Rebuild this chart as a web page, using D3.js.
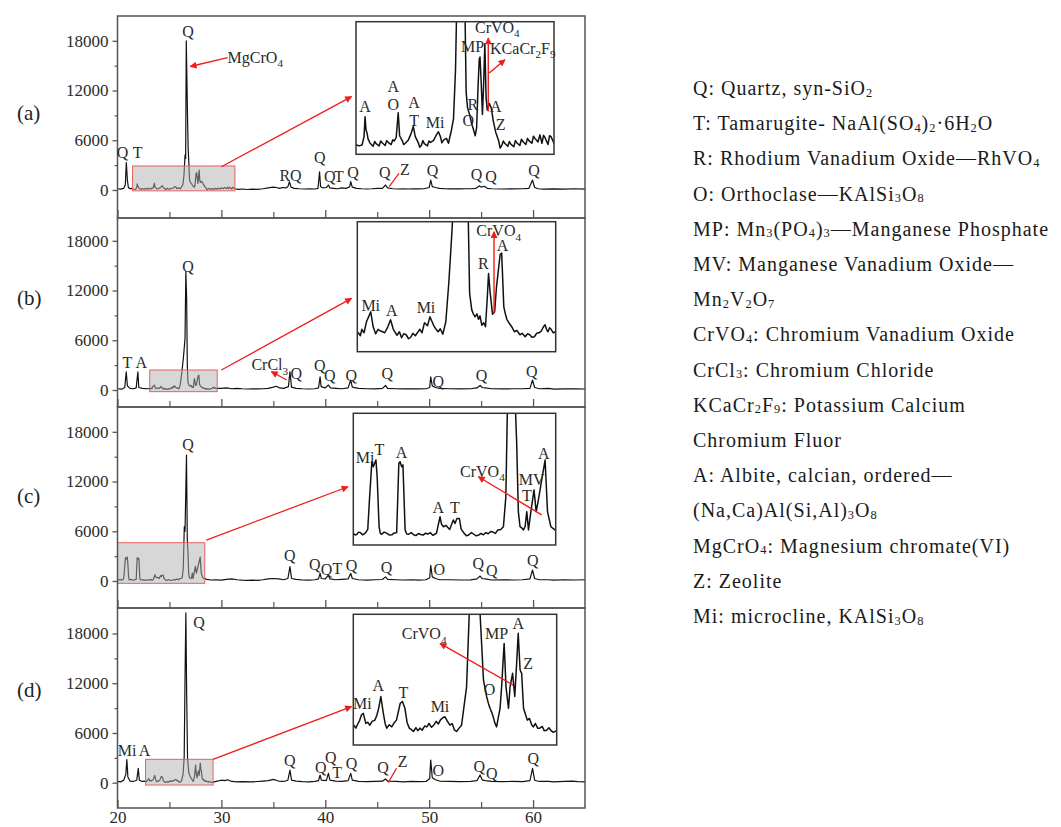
<!DOCTYPE html>
<html><head><meta charset="utf-8">
<script src="https://cdn.jsdelivr.net/npm/d3@7"></script>
<style>
body{margin:0;background:#fff}
svg text{font-family:"Liberation Serif","Times New Roman",serif}
</style>
</head><body>
<svg id="chart" width="1061" height="827"></svg>
<script>
// ---------------- DATA ----------------
const xTickValues = [20, 30, 40, 50, 60];
const xMinorTicks = [25, 35, 45, 55];
const yTickValues = [0, 6000, 12000, 18000];
const yMinorTicks = [3000, 9000, 15000];
const panelNames = ["(a)", "(b)", "(c)", "(d)"];

// XRD patterns [2theta, counts]
const traceA = [
[20.0,150],[20.3,100],[20.6,200],[20.75,600],[20.85,3300],[20.95,1200],[21.05,300],[21.2,150],[21.35,200],
[21.45,120],[21.6,90],[21.75,110],[21.85,300],[21.9,750],[21.95,450],[22.0,380],[22.05,250],[22.15,150],[22.3,80],[22.38,190],[22.45,140],[22.6,90],[22.68,200],[22.75,160],[22.9,100],[22.98,210],[23.05,170],[23.2,120],[23.28,230],[23.35,200],[23.45,280],[23.55,840],[23.62,320],[23.75,210],[23.82,120],[23.9,150],[24.05,220],[24.2,380],[24.3,530],[24.4,300],[24.55,160],[24.62,60],[24.7,100],[24.78,210],[24.85,140],[25.0,90],[25.08,200],[25.15,170],[25.3,210],[25.45,340],[25.55,410],[25.65,300],[25.72,160],[25.8,220],[25.95,260],[26.05,150],
[26.2,450],[26.3,700],[26.4,1800],[26.5,4200],[26.56,3800],[26.62,18000],[26.68,13500],[26.74,8900],[26.8,5000],[26.87,3200],[26.93,1300],[27.0,950],[27.1,800],[27.2,600],[27.3,450],[27.38,320],[27.45,500],[27.52,1400],[27.58,2050],[27.62,2100],[27.68,1500],[27.74,800],[27.8,1500],[27.86,2400],[27.92,1200],[27.98,900],[28.08,1050],[28.18,950],[28.28,650],[28.4,400],[28.55,200],[28.62,40],[28.7,100],[28.78,200],[28.85,150],[29.0,80],[29.08,190],[29.15,130],[29.3,70],[29.38,210],[29.45,160],[29.6,100],[29.68,240],[29.75,190],[29.9,120],[29.98,260],[30.05,210],[30.2,150],[30.28,310],[30.35,260],[30.5,180],[30.6,340],[30.7,150],[30.78,330],[30.85,280],[31.0,120],[31.08,320],[31.15,300],[31.3,150],
[31.6,80],[32.0,120],[32.5,60],[33.0,100],[33.5,80],[34.0,150],[34.5,250],[35.0,350],[35.3,300],[35.6,200],[35.9,300],[36.2,250],[36.4,400],[36.55,1000],[36.7,350],[37.0,200],[37.5,150],[38.0,120],[38.5,150],[39.0,120],[39.3,200],[39.45,2200],[39.55,400],[39.8,250],[40.1,300],[40.3,600],[40.45,250],[40.8,200],[41.2,150],[41.6,250],[42.0,200],[42.35,400],[42.45,1000],[42.6,350],[43.0,200],[43.5,150],[44.0,120],[44.5,150],[45.0,200],[45.5,200],[45.8,600],[46.0,250],[46.5,150],[47.0,120],[47.5,150],[48.0,120],[48.5,150],[49.0,130],[49.5,150],[50.0,300],[50.15,1200],[50.3,400],[50.6,300],[51.0,200],[51.5,150],[52.0,130],[52.5,150],[53.0,130],[53.5,150],[54.0,150],[54.5,200],[54.85,500],[55.0,350],[55.3,450],[55.6,200],[56.0,150],[57.0,120],[58.0,140],[59.0,150],[59.6,200],[59.95,1200],[60.15,300],[60.5,150],[61.0,100],[62.0,130],[63.0,100],[64.0,150],[65.0,100]
];
const traceB = [
[20.0,150],[20.4,100],[20.7,300],[20.84,2200],[20.95,500],[21.2,200],[21.5,150],[21.8,250],[21.96,2200],[22.05,300],[22.4,200],[22.8,150],
[23.13,180],[23.2,120],[23.25,250],[23.32,180],[23.4,400],[23.54,600],[23.62,300],[23.7,160],[23.78,250],[23.85,220],[24.0,180],[24.1,300],[24.19,440],[24.28,250],[24.35,180],[24.4,130],[24.48,200],[24.55,80],[24.62,160],[24.7,140],[24.78,60],[24.85,90],[24.92,170],[25.0,120],[25.15,250],[25.22,180],[25.3,380],[25.4,320],[25.48,500],[25.55,400],[25.6,330],[25.68,250],[25.75,200],[25.82,260],[25.9,150],[26.0,400],[26.1,1200],[26.2,2200],[26.35,4000],[26.5,6200],[26.58,14300],[26.66,10800],[26.72,3000],[26.78,970],[26.85,640],[26.9,560],[26.96,500],[27.02,560],[27.07,450],[27.12,520],[27.18,330],[27.24,380],[27.3,300],[27.36,900],[27.4,1370],[27.45,1000],[27.53,550],[27.6,600],[27.66,1100],[27.78,1750],[27.83,1780],[27.9,700],[27.95,560],[28.0,450],[28.05,400],[28.1,350],[28.18,280],[28.25,200],[28.32,230],[28.43,140],[28.5,170],[28.6,100],[28.68,160],[28.75,140],[28.82,90],[28.9,100],[28.98,170],[29.05,180],[29.12,210],[29.2,300],[29.25,340],[29.3,250],[29.35,200],[29.4,280],[29.45,250],[29.52,180],[29.6,200],
[30.0,200],[30.5,250],[31.0,150],[31.5,200],[32.0,150],[32.5,120],[33.0,150],[33.5,130],[34.0,150],[34.5,200],[35.0,350],[35.3,450],[35.6,250],[36.0,200],[36.45,400],[36.6,2200],[36.75,350],[37.2,200],[37.8,150],[38.4,120],[39.0,150],[39.35,250],[39.5,1600],[39.6,400],[40.0,250],[40.3,600],[40.5,250],[41.0,200],[41.6,150],[42.2,250],[42.45,1200],[42.6,350],[43.2,200],[44.0,150],[44.8,130],[45.5,200],[45.8,550],[46.0,200],[46.8,150],[47.5,130],[48.3,150],[49.0,130],[49.7,150],[50.05,300],[50.15,1600],[50.3,500],[50.6,300],[51.0,200],[52.0,150],[53.0,130],[54.0,150],[54.6,250],[54.9,550],[55.1,300],[55.4,250],[56.0,150],[57.0,130],[58.0,150],[59.0,150],[59.7,200],[59.95,1200],[60.15,300],[60.6,150],[61.5,200],[62.0,100],[63.0,130],[64.0,150],[65.0,120]
];
const traceC = [
[20.0,155],[20.08,90],[20.15,120],[20.22,200],[20.3,180],[20.38,100],[20.45,130],[20.52,190],[20.6,300],[20.67,1390],[20.77,2820],[20.83,2630],[20.94,2880],[20.99,2260],[21.07,400],[21.12,150],[21.18,120],[21.28,200],[21.4,150],[21.5,90],[21.6,100],[21.7,170],[21.8,180],[21.89,2760],[21.94,2820],[22.01,2630],[22.06,2700],[22.15,280],[22.22,130],[22.3,120],[22.4,180],[22.5,100],[22.6,70],[22.7,150],[22.8,110],[22.9,90],[23.0,160],[23.1,130],[23.2,180],[23.3,80],[23.38,120],[23.45,150],[23.6,770],[23.66,500],[23.74,400],[23.85,450],[24.0,300],[24.15,650],[24.22,520],[24.3,710],[24.4,710],[24.48,300],[24.6,155],[24.7,60],[24.8,100],[24.9,180],[25.0,120],[25.1,60],[25.2,90],[25.3,150],[25.4,100],[25.5,180],[25.6,140],[25.7,220],[25.8,200],[25.9,150],[26.0,280],[26.12,300],[26.23,400],[26.33,1500],[26.43,6550],[26.5,6000],[26.64,15200],[26.72,5000],[26.78,3530],[26.85,960],[26.92,400],[27.0,350],[27.06,280],[27.13,400],[27.2,960],[27.27,280],[27.37,960],[27.5,1770],[27.59,960],[27.68,1390],[27.82,2140],[27.96,2880],[28.06,960],[28.2,400],[28.3,330],[28.37,280],
[28.6,200],[29.0,120],[29.5,150],[30.0,100],[30.5,200],[31.0,250],[31.5,150],[32.0,100],[32.5,80],[33.0,100],[33.5,80],[34.0,150],[34.5,250],[35.0,300],[35.5,250],[36.0,150],[36.4,300],[36.6,1730],[36.75,300],[37.2,200],[37.8,120],[38.4,100],[39.0,150],[39.35,250],[39.5,930],[39.62,300],[40.0,250],[40.3,700],[40.45,250],[41.0,150],[41.6,200],[42.2,250],[42.45,930],[42.6,300],[43.2,150],[44.0,100],[44.8,150],[45.5,180],[45.8,500],[46.0,200],[46.8,150],[47.5,120],[48.3,150],[49.0,100],[49.7,150],[50.05,400],[50.15,1900],[50.3,500],[50.6,300],[51.0,150],[52.0,150],[53.0,120],[54.0,130],[54.6,250],[54.9,600],[55.1,300],[55.4,250],[56.0,120],[57.0,150],[58.0,120],[59.0,150],[59.7,250],[59.95,1330],[60.15,300],[60.6,150],[61.5,150],[62.0,100],[63.0,150],[64.0,120],[65.0,150]
];
const traceD = [
[20.0,150],[20.3,100],[20.6,300],[20.8,1000],[20.9,2800],[21.0,700],[21.2,200],[21.5,150],[21.85,300],[22.0,1730],[22.1,300],[22.4,150],
[22.72,190],[22.78,120],[22.85,230],[22.9,300],[22.96,430],[23.02,470],[23.1,230],[23.16,260],[23.23,190],[23.3,280],[23.39,310],[23.45,420],[23.51,590],[23.58,870],[23.66,470],[23.72,220],[23.77,120],[23.85,200],[23.93,150],[24.0,240],[24.08,310],[24.2,710],[24.27,750],[24.35,590],[24.42,250],[24.49,120],[24.55,90],[24.62,40],[24.7,130],[24.76,60],[24.83,120],[24.9,70],[24.98,170],[25.05,150],[25.12,230],[25.2,140],[25.27,190],[25.35,280],[25.42,220],[25.48,310],[25.55,360],[25.63,390],[25.7,290],[25.79,190],[25.86,230],[25.93,80],[26.0,40],[26.08,120],[26.16,190],[26.32,1100],[26.42,3130],[26.5,12580],[26.58,20500],[26.66,10360],[26.74,3000],[26.86,1260],[26.96,870],[27.02,700],[27.07,590],[27.12,500],[27.17,390],[27.22,250],[27.28,150],[27.34,400],[27.39,590],[27.44,1100],[27.52,2130],[27.58,1100],[27.66,590],[27.71,1100],[27.79,1420],[27.86,870],[27.92,1660],[27.97,2370],[28.03,1500],[28.08,1420],[28.14,590],[28.2,450],[28.26,310],[28.33,350],[28.4,200],[28.45,150],[28.52,230],[28.59,120],[28.66,120],[28.74,160],[28.8,60],[28.88,70],[28.95,130],[29.02,60],[29.09,20],[29.2,60],
[29.5,150],[30.0,300],[30.3,250],[30.6,350],[31.0,150],[31.5,100],[32.0,120],[33.0,100],[34.0,200],[34.5,250],[35.0,400],[35.5,200],[36.0,150],[36.4,300],[36.6,1530],[36.75,300],[37.2,200],[37.8,120],[38.4,100],[39.0,150],[39.35,250],[39.5,930],[39.62,300],[40.1,250],[40.3,1130],[40.45,300],[41.0,200],[41.6,150],[42.2,250],[42.45,1130],[42.6,300],[43.2,150],[44.0,120],[44.8,150],[45.5,180],[45.8,450],[46.0,200],[46.8,150],[47.5,100],[48.3,150],[49.0,120],[49.7,150],[50.05,500],[50.15,2730],[50.3,600],[50.6,350],[51.0,200],[52.0,150],[53.0,120],[54.0,150],[54.6,250],[54.9,930],[55.1,350],[55.4,250],[56.0,150],[57.0,130],[58.0,150],[59.0,130],[59.7,250],[59.95,1730],[60.15,300],[60.6,150],[61.5,150],[62.0,100],[63.0,150],[63.8,200],[64.3,120],[65.0,100]
];

// zoom boxes [2theta from, 2theta to, counts from, counts to]
const boxA = [21.45, 31.3, -100, 2900];
const boxB = [23.1, 29.6, -200, 2410];
const boxC = [20.0, 28.4, -280, 4620];
const boxD = [22.7, 29.2, -280, 2820];

// peak labels in main plots [text, 2theta, counts]
const labelsA = [["Q",20.48,3900],["T",21.93,3900],["Q",26.78,18480],["R",36.1,1090],["Q",37.16,1090],["Q",39.47,3260],["Q",40.43,970],["T",41.3,970],["Q",42.68,1450],["Q",45.73,1450],["Z",47.66,1810],["Q",50.33,1690],["Q",54.57,1210],["Q",55.95,970],["Q",60.1,1690]];
const labelsB = [["T",20.96,2650],["A",22.28,2650],["Q",26.78,14230],["Q",37.22,1330],["Q",39.47,2290],["Q",40.43,1090],["Q",42.5,1090],["Q",45.96,1330],["Q",50.87,360],["Q",55.05,1090],["Q",59.87,1570]];
const labelsC = [["Q",26.78,15800],["Q",36.58,2410],["Q",38.99,1330],["Q",40.11,720],["T",41.16,880],["Q",42.53,1210],["Q",45.9,1000],["O",50.97,720],["Q",54.73,1450],["Q",56.02,600],["Q",59.97,1810]];
const labelsD = [["Mi",20.92,3220],["A",22.6,3220],["Q",27.84,18650],["Q",36.58,2030],["Q",39.57,1170],["Q",40.53,2420],["T",41.14,540],["Q",42.53,1650],["Q",45.57,1170],["Z",47.44,1890],["O",50.87,810],["Q",54.82,1290],["Q",56.02,450],["Q",60.03,2270]];
// compound labels with arrows in main plots [text, 2theta, counts, arrow from 2theta, from counts, to 2theta, to counts, head]
const calloutsA = [["MgCrO_4",30.6,15340,30.6,15980,27.0,14900,1],["",0,0,46.15,400,47.1,2010,0]];
const calloutsB = [["CrCl_3",32.89,2410,36.29,1210,34.81,2210,1]];
const calloutsC = [];
const calloutsD = [["",0,0,46.05,0,46.86,1740,0]];

// labels inside the insets [text, 2theta, counts]
const insetLabelsA = [["A",21.9,860],["A",23.31,1310],["O",23.31,900],["A",24.34,950],["T",24.34,540],["Mi",25.38,500],["MP",27.25,2220],["R",27.26,900],["O",27.04,540],["A",28.40,860],["Z",28.65,450]];
const insetLabelsB = [["Mi",23.54,620],["A",24.23,520],["Mi",25.35,580],["R",27.23,1460],["A",27.86,1820]];
const insetLabelsC = [["Mi",20.49,2780],["T",21.08,3070],["A",22.0,2970],["A",23.53,910],["T",24.22,910],["MV",27.4,1950],["T",27.2,1360],["A",27.91,2920]];
const insetLabelsD = [["Mi",22.99,570],["A",23.5,1000],["T",24.3,840],["Mi",25.47,500],["O",27.05,900],["MP",27.28,2230],["A",27.97,2480],["Z",28.29,1520]];
// inset callouts [text, 2theta, counts, arrow from 2theta, from counts, to 2theta, to counts]
const insetCalloutsA = [["CrVO_4",27.37,2650,28.03,870,28.03,2530],["KCaCr_2F_9",28.12,2180,28.08,1740,28.86,2040]];
const insetCalloutsB = [["CrVO_4",27.0,2120,27.58,570,27.58,2210]];
const insetCalloutsC = [["CrVO_4",24.43,2250,27.82,840,25.19,2260]];
const insetCalloutsD = [["CrVO_4",24.25,2230,27.81,1140,25.47,2130]];
// arrows from zoom box to inset [from 2theta, from counts, to 2theta, to counts]
const zoomArrowA = [30.0, 2810, 42.53, 11260];
const zoomArrowB = [30.0, 2410, 42.53, 11050];
const zoomArrowC = [28.55, 4940, 42.19, 11370];
const zoomArrowD = [29.19, 2810, 42.53, 9180];

const legendLines = [
 "Q: Quartz, syn-SiO_2",
 "T: Tamarugite- NaAl(SO_4)_2·6H_2O",
 "R: Rhodium Vanadium Oxide—RhVO_4",
 "O: Orthoclase—KAlSi_3O_8",
 "MP: Mn_3(PO_4)_3—Manganese Phosphate",
 "MV: Manganese Vanadium Oxide—",
 "Mn_2V_2O_7",
 "CrVO_4: Chromium Vanadium Oxide",
 "CrCl_3: Chromium Chloride",
 "KCaCr_2F_9: Potassium Calcium",
 "Chromium Fluor",
 "A: Albite, calcian, ordered—",
 "(Na,Ca)Al(Si,Al)_3O_8",
 "MgCrO_4: Magnesium chromate(VI)",
 "Z: Zeolite",
 "Mi: microcline, KAlSi_3O_8"
];

// ---------------- LAYOUT ----------------
const svg = d3.select("#chart");
const LEFT = 117.5, RIGHT = 585;
const RED = "#f01c1c";
const panels = [
 {name:panelNames[0], trace:traceA, box:boxA, labels:labelsA, callouts:calloutsA, iLabels:insetLabelsA, iCallouts:insetCalloutsA, arrow:zoomArrowA,
  top:16, bottom:218, zero:190, nameY:120, inset:[356,554,21.7,154.3]},
 {name:panelNames[1], trace:traceB, box:boxB, labels:labelsB, callouts:calloutsB, iLabels:insetLabelsB, iCallouts:insetCalloutsB, arrow:zoomArrowB,
  top:218, bottom:407, zero:390, nameY:305, inset:[357.3,555.7,221.7,351.7]},
 {name:panelNames[2], trace:traceC, box:boxC, labels:labelsC, callouts:calloutsC, iLabels:insetLabelsC, iCallouts:insetCalloutsC, arrow:zoomArrowC,
  top:407, bottom:608, zero:581, nameY:503, inset:[353.3,555.7,413.3,545]},
 {name:panelNames[3], trace:traceD, box:boxD, labels:labelsD, callouts:calloutsD, iLabels:insetLabelsD, iCallouts:insetCalloutsD, arrow:zoomArrowD,
  top:608, bottom:808, zero:782.7, nameY:697, inset:[353.3,556.7,614.3,745]}
];

const defs = svg.append("defs");
defs.append("marker").attr("id","ah").attr("viewBox","0 0 10 10").attr("refX",9).attr("refY",5)
  .attr("markerWidth",9).attr("markerHeight",7).attr("markerUnits","userSpaceOnUse").attr("orient","auto")
  .append("path").attr("d","M0,0L10,5L0,10z").attr("fill",RED);

function richText(g, str, x, y, size, anchor, fill, subScale, subDy) {
  const t = g.append("text").attr("x",x).attr("y",y).attr("font-size",size)
    .attr("text-anchor",anchor||"middle").attr("fill",fill||"#2a2a2a");
  const parts = str.split(/(_[0-9]+)/);
  let sub = false;
  parts.forEach(p => {
    if (!p) return;
    if (p[0] === "_") {
      t.append("tspan").attr("font-size",size*(subScale||0.7)).attr("dy",sub?0:size*(subDy==null?0.28:subDy)).text(p.slice(1));
      sub = true;
    } else {
      const ts = t.append("tspan").text(p);
      if (sub) { ts.attr("dy",-size*(subDy==null?0.28:subDy)); sub = false; }
    }
  });
  return t;
}

const x = d3.scaleLinear().domain([20,65]).range([LEFT,RIGHT]);

panels.forEach((P,i) => {
  const g = svg.append("g");
  const y = d3.scaleLinear().domain([0,18000]).range([P.zero, P.zero-149.2]);
  const cid = "clipMain"+i;
  defs.append("clipPath").attr("id",cid).append("rect")
    .attr("x",LEFT).attr("y",P.top).attr("width",RIGHT-LEFT).attr("height",P.bottom-P.top);

  // main trace
  const line = d3.line().x(d=>x(d[0])).y(d=>y(d[1]));
  g.append("path").datum(P.trace).attr("d",line).attr("fill","none")
    .attr("stroke","#111").attr("stroke-width",1.2).attr("stroke-linejoin","round")
    .attr("clip-path","url(#"+cid+")");

  // zoom box
  g.append("rect").attr("x",x(P.box[0])).attr("y",y(P.box[3]))
    .attr("width",x(P.box[1])-x(P.box[0])).attr("height",y(P.box[2])-y(P.box[3]))
    .attr("fill","rgba(175,175,175,0.5)").attr("stroke","#e8605e").attr("stroke-width",1);

  // panel frame
  g.append("rect").attr("x",LEFT).attr("y",P.top).attr("width",RIGHT-LEFT).attr("height",P.bottom-P.top)
    .attr("fill","none").attr("stroke","#555").attr("stroke-width",1.5);

  // y axis
  const ya = d3.axisLeft(y).tickValues(yTickValues).tickSize(5).tickPadding(4).tickFormat(d3.format("d"));
  const yg = g.append("g").attr("transform",`translate(${LEFT},0)`).call(ya);
  yg.select(".domain").remove();
  yg.selectAll("text").attr("font-size",17).attr("fill","#2a2a2a").attr("font-family","Liberation Serif");
  yg.selectAll("line").attr("stroke","#555").attr("stroke-width",1.3);
  const ym = g.append("g").attr("transform",`translate(${LEFT},0)`)
    .call(d3.axisLeft(y).tickValues(yMinorTicks).tickSize(3).tickFormat(""));
  ym.select(".domain").remove();
  ym.selectAll("line").attr("stroke","#555").attr("stroke-width",1.2);

  // x axis (inward ticks)
  const xa = d3.axisBottom(x).tickValues(xTickValues).tickSizeInner(-8).tickSizeOuter(0).tickPadding(3)
    .tickFormat(i===3 ? d3.format("d") : "");
  const xg = g.append("g").attr("transform",`translate(0,${P.bottom})`).call(xa);
  xg.select(".domain").remove();
  xg.selectAll("line").attr("stroke","#555").attr("stroke-width",1.3);
  xg.selectAll("text").attr("font-size",17).attr("fill","#2a2a2a").attr("font-family","Liberation Serif");
  const xm = g.append("g").attr("transform",`translate(0,${P.bottom})`)
    .call(d3.axisBottom(x).tickValues(xMinorTicks).tickSizeInner(-6).tickSizeOuter(0).tickFormat(""));
  xm.select(".domain").remove();
  xm.selectAll("line").attr("stroke","#555").attr("stroke-width",1.2);

  // panel name
  g.append("text").attr("x",17).attr("y",P.nameY).attr("font-size",21).attr("fill","#222").text(P.name);

  // main labels
  P.labels.forEach(L => richText(g, L[0], x(L[1]), y(L[2]), 16, "middle"));
  P.callouts.forEach(C => {
    if (C[0]) richText(g, C[0], x(C[1]), y(C[2]), 16, "start");
    const ln = g.append("line").attr("x1",x(C[3])).attr("y1",y(C[4])).attr("x2",x(C[5])).attr("y2",y(C[6]))
      .attr("stroke",RED).attr("stroke-width",1.3);
    if (C[7]) ln.attr("marker-end","url(#ah)");
  });

  // arrow from box to inset
  g.append("line").attr("x1",x(P.arrow[0])).attr("y1",y(P.arrow[1])).attr("x2",x(P.arrow[2])).attr("y2",y(P.arrow[3]))
    .attr("stroke",RED).attr("stroke-width",1.3).attr("marker-end","url(#ah)");

  // inset
  const [ix0,ix1,iy0,iy1] = P.inset;
  const xi = d3.scaleLinear().domain([P.box[0],P.box[1]]).range([ix0,ix1]);
  const yi = d3.scaleLinear().domain([P.box[2],P.box[3]]).range([iy1,iy0]);
  const icid = "clipInset"+i;
  defs.append("clipPath").attr("id",icid).append("rect").attr("x",ix0).attr("y",iy0).attr("width",ix1-ix0).attr("height",iy1-iy0);
  g.append("rect").attr("x",ix0).attr("y",iy0).attr("width",ix1-ix0).attr("height",iy1-iy0).attr("fill","#fff");
  const iline = d3.line().x(d=>xi(d[0])).y(d=>yi(d[1]));
  const sub = P.trace.filter((d,k,arr) => (d[0]>=P.box[0] && d[0]<=P.box[1]) ||
     (arr[k+1] && arr[k+1][0]>=P.box[0] && d[0]<P.box[0]) || (arr[k-1] && arr[k-1][0]<=P.box[1] && d[0]>P.box[1]));
  g.append("path").datum(sub).attr("d",iline).attr("fill","none").attr("stroke","#111")
    .attr("stroke-width",1.5).attr("stroke-linejoin","round").attr("clip-path","url(#"+icid+")");
  g.append("rect").attr("x",ix0).attr("y",iy0).attr("width",ix1-ix0).attr("height",iy1-iy0)
    .attr("fill","none").attr("stroke","#333").attr("stroke-width",1.5);
  P.iLabels.forEach(L => richText(g, L[0], xi(L[1]), yi(L[2]), 16, "middle"));
  P.iCallouts.forEach(C => {
    richText(g, C[0], xi(C[1]), yi(C[2]), 16, "start");
    g.append("line").attr("x1",xi(C[3])).attr("y1",yi(C[4])).attr("x2",xi(C[5])).attr("y2",yi(C[6]))
      .attr("stroke",RED).attr("stroke-width",1.4).attr("marker-end","url(#ah)");
  });
});

// legend
const lg = svg.append("g");
legendLines.forEach((s,k) => {
  richText(lg, s, 693, 95 + 35.2*k, 20, "start", "#1a1a1a", 0.62, 0.08).attr("letter-spacing", 1.0);
});
</script>
</body></html>
